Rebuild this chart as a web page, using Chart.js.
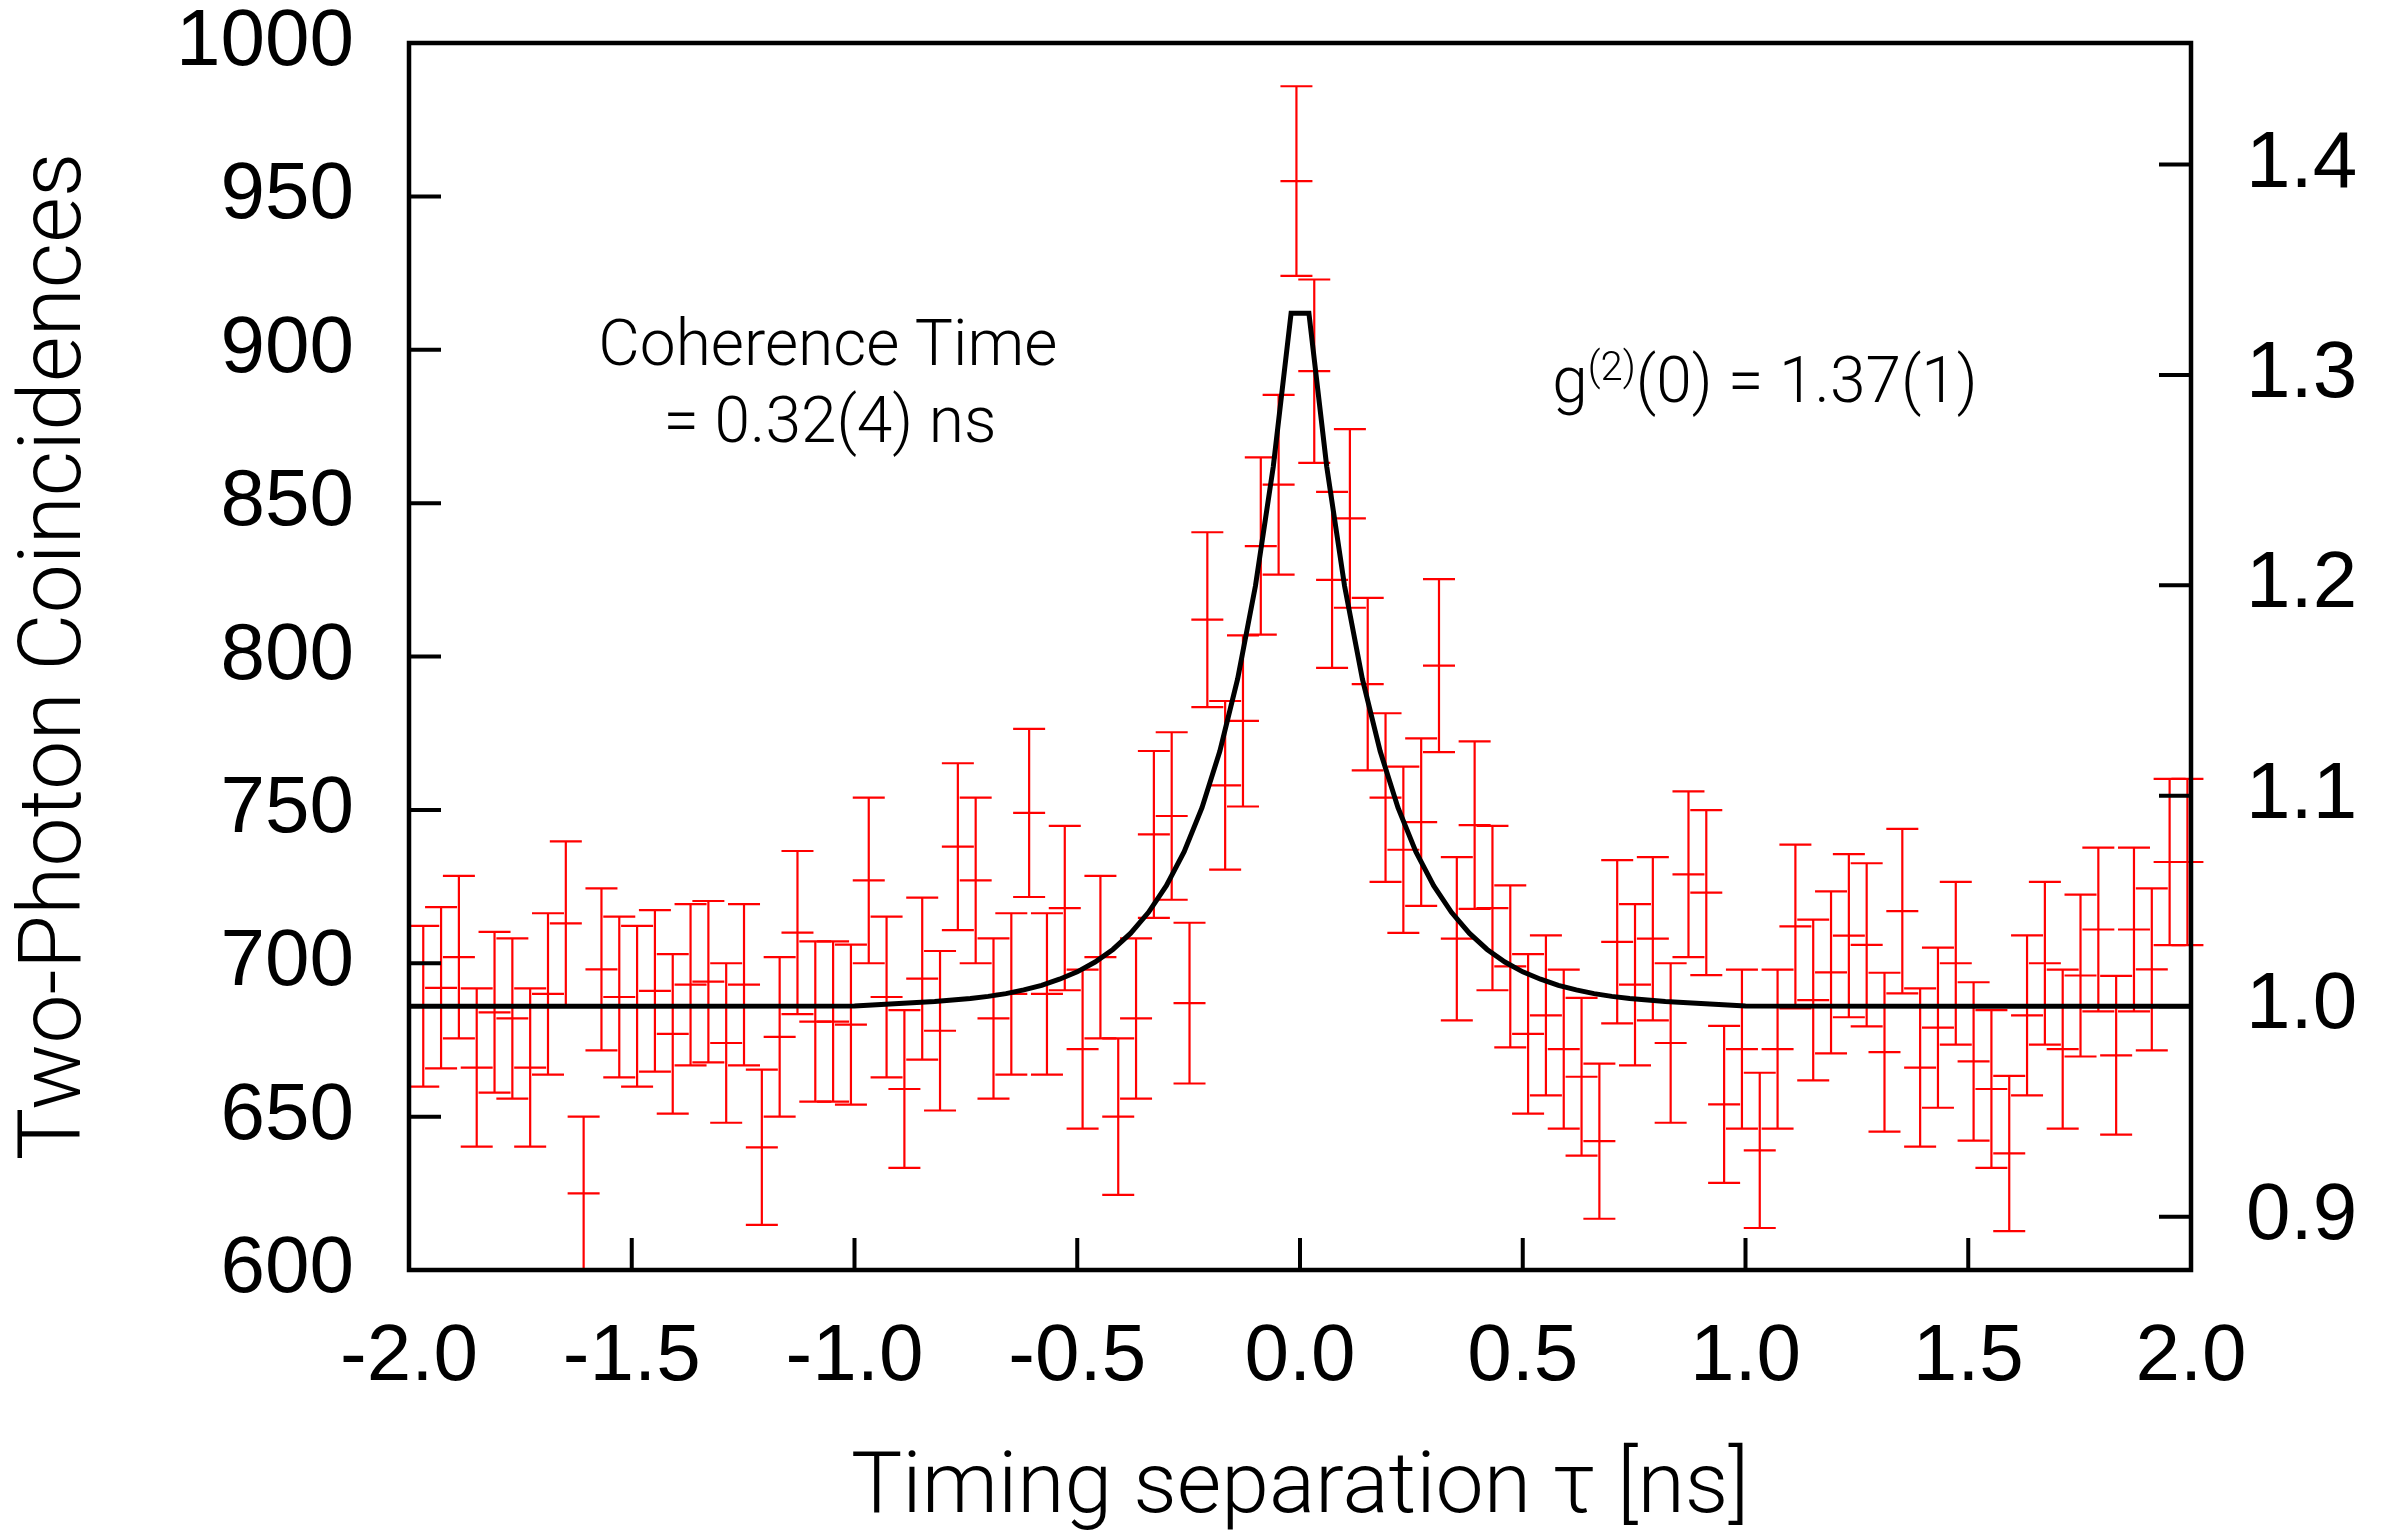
<!DOCTYPE html>
<html>
<head>
<meta charset="utf-8">
<script src="https://cdn.jsdelivr.net/npm/chart.js@4.4.0/dist/chart.umd.min.js"></script>
<style>
  html, body { margin: 0; padding: 0; background: #fff; }
  #wrap { width: 2391px; height: 1533px; }
</style>
</head>
<body>
<div id="wrap"><canvas id="g2Chart" width="2391" height="1533"></canvas></div>
<script>
// time bins [ns]
const tau = [
  -1.968, -1.928, -1.888, -1.848, -1.808, -1.768, -1.728, -1.688, -1.648, -1.608,
  -1.568, -1.528, -1.488, -1.448, -1.408, -1.368, -1.328, -1.288, -1.248, -1.208,
  -1.168, -1.128, -1.088, -1.048, -1.008, -0.968, -0.928, -0.888, -0.848, -0.808,
  -0.768, -0.728, -0.688, -0.648, -0.608, -0.568, -0.528, -0.488, -0.448, -0.408,
  -0.368, -0.328, -0.288, -0.248, -0.208, -0.168, -0.128, -0.088, -0.048, -0.008,
  0.032, 0.072, 0.112, 0.152, 0.192, 0.232, 0.272, 0.312, 0.352, 0.392,
  0.432, 0.472, 0.512, 0.552, 0.592, 0.632, 0.672, 0.712, 0.752, 0.792,
  0.832, 0.872, 0.912, 0.952, 0.992, 1.032, 1.072, 1.112, 1.152, 1.192,
  1.232, 1.272, 1.312, 1.352, 1.392, 1.432, 1.472, 1.512, 1.552, 1.592,
  1.632, 1.672, 1.712, 1.752, 1.792, 1.832, 1.872, 1.912, 1.952, 1.992
];

// two-photon coincidences per bin
const counts = [
  686, 692, 702, 666, 684, 682, 666, 690, 713, 625,
  698, 689, 686, 691, 677, 693, 694, 674, 693, 640,
  676, 710, 681, 681, 680, 727, 689, 659, 695, 678,
  738, 727, 682, 690, 749, 690, 718, 672, 702, 650,
  682, 742, 748, 687, 812, 758, 779, 836, 856, 955,
  893, 825, 845, 791, 754, 737, 746, 797, 708, 745,
  718, 699, 677, 683, 672, 663, 642, 707, 693, 708,
  674, 729, 723, 654, 672, 639, 672, 712, 688, 697,
  709, 706, 671, 717, 666, 679, 700, 668, 659, 638,
  683, 700, 672, 696, 711, 670, 711, 698, 733, 733
];

// error bars (half length)
const countErr = [
  26.2, 26.3, 26.5, 25.8, 26.2, 26.1, 25.8, 26.3, 26.7, 25.0,
  26.4, 26.2, 26.2, 26.3, 26.0, 26.3, 26.3, 26.0, 26.3, 25.3,
  26.0, 26.6, 26.1, 26.1, 26.1, 27.0, 26.2, 25.7, 26.4, 26.0,
  27.2, 27.0, 26.1, 26.3, 27.4, 26.3, 26.8, 25.9, 26.5, 25.5,
  26.1, 27.2, 27.3, 26.2, 28.5, 27.5, 27.9, 28.9, 29.3, 30.9,
  29.9, 28.7, 29.1, 28.1, 27.5, 27.1, 27.3, 28.2, 26.6, 27.3,
  26.8, 26.4, 26.0, 26.1, 25.9, 25.7, 25.3, 26.6, 26.3, 26.6,
  26.0, 27.0, 26.9, 25.6, 25.9, 25.3, 25.9, 26.7, 26.2, 26.4,
  26.6, 26.6, 25.9, 26.8, 25.8, 26.1, 26.5, 25.8, 25.7, 25.3,
  26.1, 26.5, 25.9, 26.4, 26.7, 25.9, 26.7, 26.4, 27.1, 27.1
];

// fitted curve
const fitTau = [
  -2.0, -1.5, -1.0, -0.90, -0.86, -0.82, -0.78, -0.74, -0.70, -0.66,
  -0.62, -0.58, -0.54, -0.50, -0.46, -0.42, -0.38, -0.34, -0.30, -0.26,
  -0.22, -0.18, -0.14, -0.10, -0.06, -0.02,
  0.02, 0.06, 0.10, 0.14, 0.18, 0.22, 0.26, 0.30, 0.34, 0.38,
  0.42, 0.46, 0.50, 0.54, 0.58, 0.62, 0.66, 0.70, 0.74, 0.78,
  0.82, 0.86, 0.90, 1.0, 1.5, 2.0
];
const fitCounts = [
  686.0, 686.0, 686.1, 686.9, 687.2, 687.5, 688.0, 688.5, 689.2, 690.1,
  691.3, 692.8, 694.8, 697.2, 700.4, 704.5, 709.8, 716.6, 725.3, 736.4,
  750.7, 769.1, 792.7, 823.0, 861.9, 911.9,
  911.9, 861.9, 823.0, 792.7, 769.1, 750.7, 736.4, 725.3, 716.6, 709.8,
  704.5, 700.4, 697.2, 694.8, 692.8, 691.3, 690.1, 689.2, 688.5, 688.0,
  687.5, 687.2, 686.9, 686.1, 686.0, 686.0
];

// axes
const xTicks = [-2.0, -1.5, -1.0, -0.5, 0.0, 0.5, 1.0, 1.5, 2.0];
const yTicks = [600, 650, 700, 750, 800, 850, 900, 950, 1000];
const g2Ticks = [0.9, 1.0, 1.1, 1.2, 1.3, 1.4];
const baseline = 686; // counts for g2 = 1

const tickFont = "'Liberation Sans', Arial, sans-serif";
const labelFont = "Roboto, 'Liberation Sans', sans-serif";

const errorBars = {
    id: "errorBars",
    beforeDatasetsDraw(chart) {
        const { ctx, scales: { x, y } } = chart;
        const capHalf = 16;
        ctx.save();
        ctx.strokeStyle = "#ff0000";
        ctx.lineWidth = 2.2;
        tau.forEach((t, i) => {
            const px = x.getPixelForValue(t);
            const yc = y.getPixelForValue(counts[i]);
            const yt = y.getPixelForValue(counts[i] + countErr[i]);
            const yb = y.getPixelForValue(counts[i] - countErr[i]);
            ctx.beginPath();
            ctx.moveTo(px, yt);
            ctx.lineTo(px, yb);
            [yt, yc, yb].forEach(py => {
                ctx.moveTo(px - capHalf, py);
                ctx.lineTo(px + capHalf, py);
            });
            ctx.stroke();
        });
        ctx.restore();
    }
};

const frameAndText = {
    id: "frameAndText",
    afterDatasetsDraw(chart) {
        const { ctx, chartArea: a, scales: { x, y, y2 } } = chart;
        const tickLen = 32;
        ctx.save();
        ctx.strokeStyle = "#000";
        ctx.lineWidth = 4;
        ctx.beginPath();
        xTicks.forEach(v => {
            const px = x.getPixelForValue(v);
            ctx.moveTo(px, a.bottom);
            ctx.lineTo(px, a.bottom - tickLen);
        });
        yTicks.forEach(v => {
            const py = y.getPixelForValue(v);
            ctx.moveTo(a.left, py);
            ctx.lineTo(a.left + tickLen, py);
        });
        g2Ticks.forEach(v => {
            const py = y2.getPixelForValue(v);
            ctx.moveTo(a.right, py);
            ctx.lineTo(a.right - tickLen, py);
        });
        ctx.stroke();
        ctx.lineWidth = 4.5;
        ctx.strokeRect(a.left, a.top, a.right - a.left, a.bottom - a.top);

        // annotations
        ctx.fillStyle = "#000";
        ctx.textBaseline = "alphabetic";
        ctx.font = "300 64px " + labelFont;
        ctx.textAlign = "center";
        ctx.fillText("Coherence Time", x.getPixelForValue(-1.06), y.getPixelForValue(895));
        ctx.fillText("= 0.32(4) ns", x.getPixelForValue(-1.055), y.getPixelForValue(870));

        ctx.textAlign = "left";
        let gx = x.getPixelForValue(0.566);
        const gy = y.getPixelForValue(883);
        ctx.fillText("g", gx, gy);
        gx += ctx.measureText("g").width;
        ctx.font = "300 40px " + labelFont;
        ctx.fillText("(2)", gx, gy - 22);
        gx += ctx.measureText("(2)").width;
        ctx.font = "300 64px " + labelFont;
        ctx.fillText("(0) = 1.37(1)", gx, gy);
        ctx.restore();
    }
};

// keep the plot frame where it is: no extra room for half tick labels
const noEdgePadding = s => {
    s.paddingTop = 0;
    s.paddingBottom = 0;
    s.paddingLeft = 0;
    s.paddingRight = 0;
};

new Chart(document.getElementById("g2Chart"), {
    type: "scatter",
    data: {
        datasets: [{
            label: "Coincidences",
            data: tau.map((t, i) => ({ x: t, y: counts[i] })),
            pointRadius: 0,
            showLine: false
        }, {
            label: "Fit",
            type: "line",
            data: fitTau.map((t, i) => ({ x: t, y: fitCounts[i] })),
            borderColor: "#000",
            borderWidth: 5,
            pointRadius: 0,
            tension: 0,
            fill: false
        }]
    },
    options: {
        responsive: false,
        animation: false,
        devicePixelRatio: 1,
        layout: { padding: { top: 43, left: 0, right: 0, bottom: 0 } },
        plugins: {
            legend: { display: false },
            tooltip: { enabled: false }
        },
        scales: {
            x: {
                type: "linear",
                min: -2,
                max: 2,
                afterBuildTicks: s => { s.ticks = xTicks.map(v => ({ value: v })); },
                afterFit: s => { s.height = 263; noEdgePadding(s); },
                grid: { display: false, drawTicks: false },
                border: { display: false },
                ticks: {
                    callback: v => v.toFixed(1),
                    color: "#000",
                    font: { family: tickFont, size: 80 },
                    padding: 40,
                    maxRotation: 0,
                    autoSkip: false
                },
                title: {
                    display: true,
                    text: "Timing separation \u03c4 [ns]",
                    color: "#000",
                    font: { family: labelFont, size: 86, weight: 300, lineHeight: 1 },
                    padding: 0
                }
            },
            y: {
                type: "linear",
                position: "left",
                min: 600,
                max: 1000,
                afterBuildTicks: s => { s.ticks = yTicks.map(v => ({ value: v })); },
                afterFit: s => { s.width = 409; noEdgePadding(s); },
                grid: { display: false, drawTicks: false },
                border: { display: false },
                ticks: {
                    callback: v => String(v),
                    color: "#000",
                    font: { family: tickFont, size: 80 },
                    padding: 55
                },
                title: {
                    display: true,
                    text: "Two-Photon Coincidences",
                    color: "#000",
                    font: { family: labelFont, size: 88, weight: 300, lineHeight: 1 },
                    padding: { top: 14, bottom: 0 }
                }
            },
            y2: {
                type: "linear",
                position: "right",
                min: 600 / baseline,
                max: 1000 / baseline,
                afterBuildTicks: s => { s.ticks = g2Ticks.map(v => ({ value: v })); },
                afterFit: s => { s.width = 200; noEdgePadding(s); },
                grid: { display: false, drawTicks: false },
                border: { display: false },
                ticks: {
                    callback: v => v.toFixed(1),
                    color: "#000",
                    font: { family: tickFont, size: 80 },
                    padding: 55
                }
            }
        }
    },
    plugins: [errorBars, frameAndText]
});
</script>
</body>
</html>
